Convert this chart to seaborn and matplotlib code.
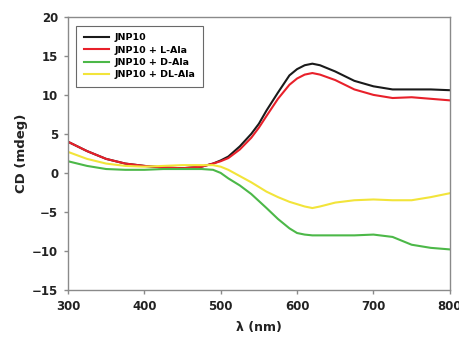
import numpy as np
import pandas as pd
import matplotlib
matplotlib.use("Agg")
import matplotlib.pyplot as plt
import seaborn as sns

wavelength = [300, 325, 350, 375, 400, 425, 450, 475, 490, 500, 510, 525, 540, 550,
              560, 575, 590, 600, 610, 620, 630, 650, 675, 700, 725, 750, 775, 800]
jnp10 = [4.0, 2.8, 1.8, 1.2, 0.9, 0.7, 0.6, 0.8, 1.2, 1.6, 2.1, 3.4, 5.0, 6.3,
         8.0, 10.3, 12.5, 13.3, 13.8, 14.0, 13.8, 13.0, 11.8, 11.1, 10.7, 10.7, 10.7, 10.6]
jnp10_l = [4.0, 2.8, 1.8, 1.2, 0.9, 0.7, 0.6, 0.8, 1.2, 1.5, 1.9, 3.0, 4.5, 5.8,
           7.3, 9.5, 11.3, 12.1, 12.6, 12.8, 12.6, 11.9, 10.7, 10.0, 9.6, 9.7, 9.5, 9.3]
jnp10_d = [1.5, 0.9, 0.5, 0.4, 0.4, 0.5, 0.5, 0.5, 0.4, 0.0, -0.7, -1.6, -2.7, -3.6,
           -4.5, -5.9, -7.1, -7.7, -7.9, -8.0, -8.0, -8.0, -8.0, -7.9, -8.2, -9.2, -9.6, -9.8]
jnp10_dl = [2.7, 1.8, 1.2, 0.9, 0.8, 0.9, 1.0, 1.0, 1.0, 0.8, 0.4, -0.4, -1.2, -1.8,
            -2.4, -3.1, -3.7, -4.0, -4.3, -4.5, -4.3, -3.8, -3.5, -3.4, -3.5, -3.5, -3.1, -2.6]
series_names = ["JNP10", "JNP10 + L-Ala", "JNP10 + D-Ala", "JNP10 + DL-Ala"]
colors = ["#1a1a1a", "#e8202a", "#4cb848", "#f2e43a"]

frames = []
for name, vals in zip(series_names, [jnp10, jnp10_l, jnp10_d, jnp10_dl]):
    frames.append(pd.DataFrame({"wl": wavelength, "cd": vals, "series": name}))
df = pd.concat(frames, ignore_index=True)

fig = plt.figure(figsize=(4.59, 3.44), dpi=100)
ax = fig.add_axes([0.148, 0.157, 0.832, 0.794])
sns.lineplot(data=df, x="wl", y="cd", hue="series", hue_order=series_names,
             palette=colors, linewidth=1.5, ax=ax, sort=True)

ax.set_xlim(300, 800)
ax.set_ylim(-15, 20)
ax.set_xticks([300, 400, 500, 600, 700, 800])
ax.set_yticks([-15, -10, -5, 0, 5, 10, 15, 20])
for sp in ax.spines.values():
    sp.set_color("#8a8a8a")
    sp.set_linewidth(1.0)
ax.tick_params(axis="both", direction="out", length=3, width=1, color="#8a8a8a",
               labelsize=8.5, pad=4)
for lbl in ax.get_xticklabels() + ax.get_yticklabels():
    lbl.set_fontweight("bold")
    lbl.set_color("#222222")
ax.set_xlabel("λ (nm)", fontsize=9, fontweight="bold", color="#222222", labelpad=6)
ax.set_ylabel("CD (mdeg)", fontsize=9.5, fontweight="bold", color="#222222", labelpad=3)

leg = ax.legend(loc="upper left", bbox_to_anchor=(0.01, 0.985), fontsize=7,
                prop={"weight": "bold", "size": 6.8}, frameon=True, fancybox=False,
                handlelength=2.6, borderpad=0.8, labelspacing=0.35, handletextpad=0.6)
leg.get_frame().set_edgecolor("#444444")
leg.get_frame().set_linewidth(0.8)

fig.savefig("out.png", dpi=100)
